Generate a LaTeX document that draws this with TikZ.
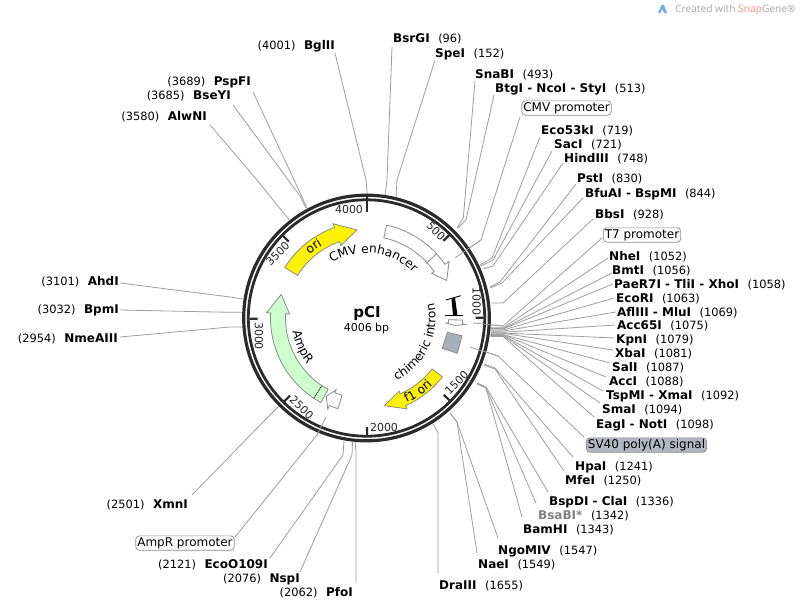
\documentclass[tikz,border=0pt]{standalone}
\usepackage{fontspec}
\setmainfont{DejaVu Sans}
\newfontfamily\wmfont{Open Sans}
\usetikzlibrary{decorations.text}
\definecolor{conn}{HTML}{9E9E9E}
\definecolor{ringc}{HTML}{2B2B2B}
\definecolor{edgeg}{HTML}{8C8C8C}
\def\cx{366.5}
\def\cy{318}
\tikzset{
  connl/.style={draw=conn,line width=0.8pt},
  lab/.style={inner sep=0pt,font=\fontsize{11.4}{13}\selectfont},
  boxlab/.style={draw=edgeg,fill=white,rounded corners=3.5pt,inner xsep=1.5pt,inner ysep=1.5pt,line width=0.7pt,font=\fontsize{12}{13}\selectfont,text height=9pt,text depth=2.3pt},
  feat/.style={draw=edgeg,line width=0.8pt,line join=miter},
  ticklab/.style={inner sep=0pt,font=\fontsize{11}{13}\selectfont,text=black!85},
  tickm/.style={draw=ringc,line width=2.2pt},
}
% site label, name on the left
\newcommand\rlab[5][black]{\node[lab,anchor=base west] (#2) at (#3) {\textcolor{#1}{\fontsize{12}{13}\selectfont\bfseries #4}\hspace{0.75em}(#5)};}
% site label, name on the right
\newcommand\llab[4]{\node[lab,anchor=base east] (#1) at (#2) {(#4)\hspace{0.75em}{\fontsize{12}{13}\selectfont\bfseries #3}};}
% connector with a bend
\newcommand\lnk[4]{\coordinate (#1a) at (#2);\coordinate (#1b) at (#3);\coordinate (#1c) at (#4);\draw[connl] (#1a) -- (#1b) -- (#1c);}
% curved feature arrow: style, ri, ro, a0, a1, tip, rih, roh
\newcommand\farrow[8][]{\draw[feat,#1] plot[domain=#4:#5,samples=30] ({\cx+#3*sin(\x)},{\cy-#3*cos(\x)}) -- ({\cx+#8*sin(#5)},{\cy-#8*cos(#5)}) -- ({\cx+(#2+#3)/2*sin(#6)},{\cy-(#2+#3)/2*cos(#6)}) -- ({\cx+#7*sin(#5)},{\cy-#7*cos(#5)}) -- plot[domain=#5:#4,samples=30] ({\cx+#2*sin(\x)},{\cy-#2*cos(\x)}) -- cycle;}
% text on an arc: radius, a0, a1, text
\newcommand\arctext[4]{\path[decorate,decoration={text along path,text align=center,text={|\fontsize{12.2}{14}\selectfont|#4}}] plot[domain=#2:#3,samples=60] ({\cx+#1*sin(\x)},{\cy-#1*cos(\x)});}
\begin{document}
\begin{tikzpicture}[x=1pt,y=-1pt]
\useasboundingbox (0,0) rectangle (802,608);
\fill[white] (0,0) rectangle (802,608);
% connectors, right side
\lnk{l1}{392,47}{387,180}{385,195}
\lnk{l2}{435,60}{397,180}{396,197}
\lnk{l3}{475,81}{463.3,218}{457,228}
\lnk{l4}{494,95}{466,220}{458,228}
\lnk{l5}{520,117}{481,240}{455,258}
\lnk{l6}{540,137}{492,258}{480,265}
\lnk{l7}{552,151}{493,260}{481,266}
\lnk{l8}{563,163}{493,266}{483,269}
\lnk{l9}{576,184}{500,282}{490,287}
\lnk{l10}{583,198}{502,283}{490,288}
\lnk{l11}{593,219}{503,303}{492,303}
\lnk{l12}{602,238}{503,326}{473,323}
\foreach \i/\lx/\ly/\ry in {a/608/258/327.8,b/612/273/328.6,c/613/284/329,d/614/298/330,e/616/312/331.1,f/615/325/332.3,g/614/338/333,h/613/350/333.3,i/610/363/334.6,j/606/377/334.7,k/603/391/335.3,m/600/403/335.6,n/594/417/336.4}{
  \coordinate (c\i a) at (\lx,\ly);
  \coordinate (c\i b) at (503,\ry);
  \coordinate (c\i c) at (490.5,\ry);
  \draw[connl] (c\i a) -- (c\i b) -- (c\i c);
}
\lnk{l13}{584,437}{498,356}{470,347}
\lnk{l14}{573,457}{495,368}{484,364}
\lnk{l15}{564,471}{495,369}{484,365}
\lnk{l16}{548,492}{486,387}{477,383}
\lnk{l17}{536,503}{486,388}{477,383}
\lnk{l18}{522,517}{486,388}{477,384}
\lnk{l19}{498,538}{457,422}{450,413}
\lnk{l20}{477,553}{457,422}{450,413}
\lnk{l21}{438,573}{438,433}{433,424}
% connectors, left side
\lnk{l22}{335,53}{366,180}{367.2,194}
\lnk{l23}{253,92}{302,197}{307,208}
\lnk{l24}{233,105}{300,196}{306,208}
\lnk{l25}{210,125}{257,180}{290,221}
\lnk{l26}{120,283}{230,297}{243,299}
\lnk{l27}{120,310}{230,312.3}{243,312.3}
\lnk{l28}{120,337}{230,327}{243,327}
\lnk{l29}{192,495}{265,420}{279,406}
\lnk{l30}{235,537}{317,435}{326,417}
\lnk{l31}{270,558}{343,455}{344,441}
\lnk{l32}{300,572}{352,455}{352.5,442}
\lnk{l33}{356,583}{356,452}{355,442}
% ring
\draw[ringc,line width=3.2pt,fill=white] (\cx,\cy) circle (122.8pt);
\draw[ringc,line width=2.8pt] (\cx,\cy) circle (118.2pt);
% ends that reach inside the ring
\draw[connl] (l5b) -- (l5c);
\draw[connl] (l12b) -- (l12c);
\draw[connl] (l13b) -- (l13c);
\draw[connl] (l30b) -- (l30c);
% tick marks
\coordinate (t4a) at (367,197);\coordinate (t4b) at (367,212);\draw[tickm] (t4a) -- (t4b);
\foreach \a in {44.9,89.9,134.8,179.7,224.6,269.6,314.5}{
  \draw[tickm] ({\cx+117*sin(\a)},{\cy-117*cos(\a)}) -- ({\cx+109*sin(\a)},{\cy-109*cos(\a)});
}
\node[ticklab] (t4000) at (349,209) {4000};
\node[ticklab,rotate=-45] (t500) at (436,231) {500};
\node[ticklab,rotate=-90] (t1000) at (476.7,301.7) {1000};
\node[ticklab,rotate=45] (t1500) at (456.7,383) {1500};
\node[ticklab] (t2000) at (384,427) {2000};
\node[ticklab,rotate=-45] (t2500) at (301.7,407.7) {2500};
\node[ticklab,rotate=-90] (t3000) at (259,336) {3000};
\node[ticklab,rotate=45] (t3500) at (277.7,254) {3500};
% features
\farrow[fill=yellow]{81}{96}{-58.3}{-19.5}{-6.2}{77}{100}
\farrow[fill=white]{82}{95}{12.2}{55.6}{65}{79}{100}
\draw[feat] ({\cx+81*sin(47.5)},{\cy-81*cos(47.5)}) -- ({\cx+95*sin(47.5)},{\cy-95*cos(47.5)});
\farrow[fill=white]{82}{96}{91.2}{93.6}{94.8}{79}{100}
\farrow[fill=yellow]{83}{96}{127.8}{156}{168.5}{80}{99.5}
\farrow[fill=white]{81}{95}{197.5}{203}{207.2}{78}{99}
\farrow[fill={rgb,255:red,204;green,255;blue,204}]{81}{96}{208.3}{273}{285.5}{77}{100}
\draw[black,densely dotted,line width=0.9pt] ({\cx+81*sin(213.3)},{\cy-81*cos(213.3)}) -- ({\cx+96*sin(213.3)},{\cy-96*cos(213.3)});
% intron
\draw[black,line width=0.9pt] (446,300) -- (460.7,295.7);
\draw[black,line width=0.9pt] (445,315.7) -- (463,315.7);
\fill[black] (451.5,298.8) -- (455,297.6) -- (457.5,315.7) -- (453,315.7) -- cycle;
% poly(A) block
\draw[feat,fill={rgb,255:red,168;green,174;blue,186}] (447.3,332.3) -- (462,335.7) -- (457.3,353.3) -- (442.3,348.3) -- cycle;
% curved labels
\arctext{65}{-50}{64}{CMV enhancer}
\arctext{85}{-62}{-11}{ori}
\arctext{94}{170}{120}{f1 ori}
\arctext{69}{172}{60}{chimeric intron}
\arctext{75}{276}{216}{AmpR}
% centre
\node[inner sep=0pt,font=\fontsize{15}{17}\selectfont\bfseries] (title) at (367,313) {pCI};
\node[inner sep=0pt,font=\fontsize{11}{13}\selectfont] (size) at (366.5,328) {4006 bp};
% right labels
\rlab{bsrgi}{393,42}{BsrGI}{96}
\rlab{spei}{435,57}{SpeI}{152}
\rlab{snabi}{475,78}{SnaBI}{493}
\rlab{btgi}{495,92}{BtgI - NcoI - StyI}{513}
\node[boxlab] (cmvp) at (566.5,108) {CMV promoter};
\rlab{eco53}{541,134}{Eco53kI}{719}
\rlab{saci}{554,148}{SacI}{721}
\rlab{hind}{564,162}{HindIII}{748}
\rlab{psti}{577,182}{PstI}{830}
\rlab{bfuai}{585,197}{BfuAI - BspMI}{844}
\rlab{bbsi}{595,218}{BbsI}{928}
\node[boxlab] (t7p) at (642,235) {T7 promoter};
\rlab{nhei}{609,260}{NheI}{1052}
\rlab{bmti}{612,274}{BmtI}{1056}
\rlab{paer}{614,288}{PaeR7I - TliI - XhoI}{1058}
\rlab{ecori}{616,302}{EcoRI}{1063}
\rlab{afl}{617,316}{AflIII - MluI}{1069}
\rlab{acc65}{617,329}{Acc65I}{1075}
\rlab{kpni}{616,343}{KpnI}{1079}
\rlab{xbai}{615,357}{XbaI}{1081}
\rlab{sali}{612,371}{SalI}{1087}
\rlab{acci}{609,385}{AccI}{1088}
\rlab{tspmi}{606,399}{TspMI - XmaI}{1092}
\rlab{smai}{602,413}{SmaI}{1094}
\rlab{eagi}{596,428}{EagI - NotI}{1098}
\node[boxlab,fill={rgb,255:red,178;green,182;blue,192}] (sv40) at (646.5,445) {SV40 poly(A) signal};
\rlab{hpai}{575,470}{HpaI}{1241}
\rlab{mfei}{565,484}{MfeI}{1250}
\rlab{bspdi}{549,505}{BspDI - ClaI}{1336}
\rlab[gray]{bsabi}{538,519}{BsaBI*}{1342}
\rlab{bamhi}{523,533}{BamHI}{1343}
\rlab{ngo}{498,554}{NgoMIV}{1547}
\rlab{naei}{478,568}{NaeI}{1549}
\rlab{dra}{439,589}{DraIII}{1655}
% left labels
\llab{bgl}{335,49}{BglII}{4001}
\llab{psp}{251,85}{PspFI}{3689}
\llab{bse}{231,99}{BseYI}{3685}
\llab{alw}{207,120}{AlwNI}{3580}
\llab{ahd}{119,285}{AhdI}{3101}
\llab{bpm}{119,313}{BpmI}{3032}
\llab{nme}{118,342}{NmeAIII}{2954}
\llab{xmn}{188,508}{XmnI}{2501}
\node[boxlab] (ampp) at (185,543) {AmpR promoter};
\llab{eco109}{268,568}{EcoO109I}{2121}
\llab{nsp}{300,582}{NspI}{2076}
\llab{pfo}{353,596}{PfoI}{2062}
% watermark
\fill[cyan!60!blue!55] (658,13) -- (661.5,5) -- (664,5) -- (667,13) -- (664,13) -- (662,9) -- (660.5,13) -- cycle;
\node[inner sep=0pt,anchor=base west,font=\wmfont\fontsize{10.2}{11}\selectfont,text=black!35] (wm) at (675,12.5) {Created with \textcolor{red!45!white}{Snap}Gene®};
\end{tikzpicture}
\end{document}
